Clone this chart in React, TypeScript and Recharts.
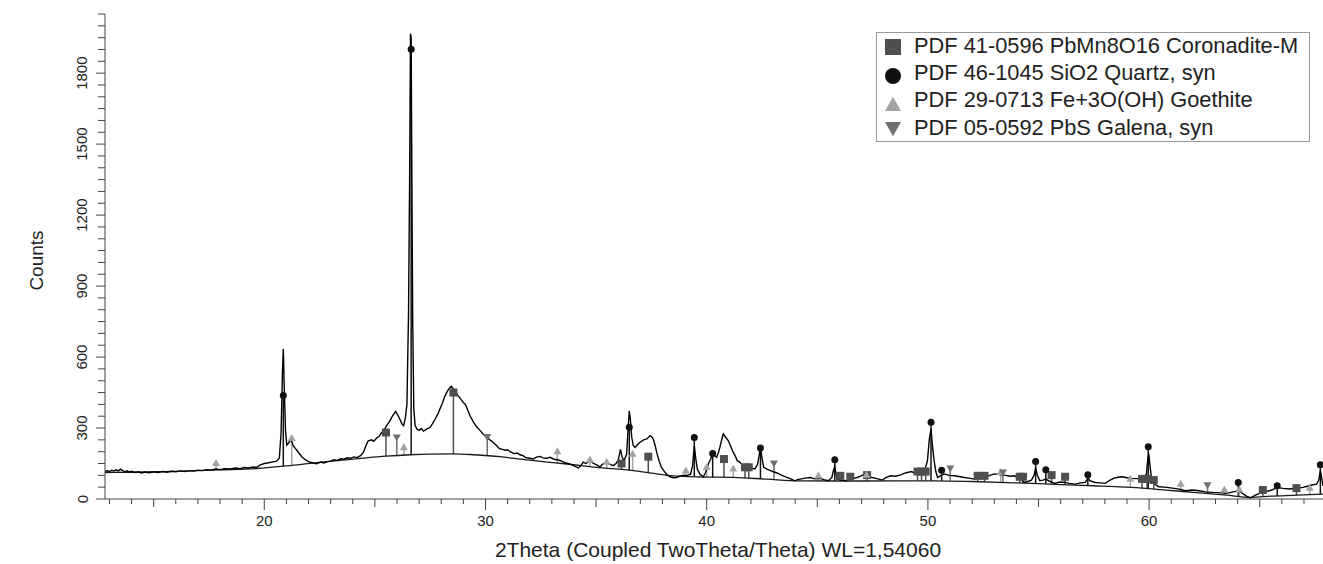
import React from 'react';
import { ComposedChart, Line, Scatter, XAxis, YAxis, ReferenceLine, Label } from 'recharts';

const FONT = '"Liberation Sans", Arial, Helvetica, sans-serif';

// Measured diffraction scan: [2Theta, Counts]
const scanPoints: [number, number][] = [
  [12.8,117],[12.9,119],[13.0,116],[13.1,121],[13.2,118],[13.3,123],[13.4,119],[13.5,126],[13.6,120],[13.7,116],
  [13.8,119],[13.9,114],[14.0,117],[14.15,112],[14.3,115],[14.45,110],[14.6,114],[14.8,111],[15.0,115],[15.2,112],
  [15.4,116],[15.6,113],[15.8,117],[16.0,115],[16.2,119],[16.4,116],[16.6,120],[16.8,118],[17.0,122],[17.2,120],
  [17.4,124],[17.6,122],[17.8,127],[18.0,124],[18.2,128],[18.45,127],[18.7,131],[18.9,128],[19.1,133],[19.3,131],
  [19.5,135],[19.66,134],[19.8,143],[20.0,150],[20.2,153],[20.4,157],[20.55,160],[20.68,172],[20.76,280],[20.82,530],
  [20.86,634],[20.9,480],[20.96,290],[21.02,228],[21.1,236],[21.18,250],[21.25,242],[21.31,225],[21.4,214],[21.5,203],
  [21.6,190],[21.7,178],[21.85,166],[22.0,158],[22.2,152],[22.37,149],[22.55,156],[22.7,152],[22.85,158],[23.0,160],
  [23.15,166],[23.3,163],[23.45,170],[23.6,168],[23.75,174],[23.9,172],[24.05,178],[24.2,175],[24.35,183],[24.48,197],
  [24.6,226],[24.7,246],[24.85,250],[24.95,244],[25.08,258],[25.2,266],[25.3,280],[25.4,290],[25.53,309],[25.65,326],
  [25.76,345],[25.86,360],[25.94,370],[26.03,356],[26.13,337],[26.22,318],[26.3,310],[26.38,345],[26.45,400],[26.52,780],
  [26.57,1350],[26.61,1967],[26.64,1950],[26.67,1400],[26.71,750],[26.76,380],[26.82,310],[26.9,296],[27.0,290],[27.1,298],
  [27.2,287],[27.35,296],[27.49,302],[27.6,318],[27.72,337],[27.85,360],[27.94,380],[28.05,405],[28.17,436],[28.28,456],
  [28.38,470],[28.46,476],[28.55,464],[28.65,452],[28.77,436],[28.9,420],[29.0,408],[29.1,398],[29.2,375],[29.3,352],
  [29.45,326],[29.6,305],[29.75,290],[29.9,274],[30.05,262],[30.2,250],[30.35,239],[30.5,226],[30.62,214],[30.72,211],
  [30.9,206],[31.0,208],[31.11,200],[31.3,192],[31.45,194],[31.56,187],[31.7,183],[31.8,176],[32.0,172],[32.16,169],
  [32.3,177],[32.47,180],[32.6,174],[32.75,172],[32.92,176],[33.1,168],[33.29,165],[33.45,160],[33.6,153],[33.82,148],
  [34.0,140],[34.2,131],[34.32,142],[34.42,156],[34.55,150],[34.72,164],[34.85,152],[35.05,143],[35.18,136],[35.3,148],
  [35.48,156],[35.6,147],[35.78,141],[35.9,150],[36.0,163],[36.1,210],[36.18,176],[36.26,162],[36.38,190],[36.45,300],
  [36.5,373],[36.55,335],[36.61,262],[36.68,226],[36.76,218],[36.88,230],[36.99,240],[37.15,250],[37.29,254],[37.38,262],
  [37.44,268],[37.52,262],[37.59,252],[37.68,222],[37.74,197],[37.85,160],[37.95,135],[38.04,122],[38.2,103],[38.34,94],
  [38.5,90],[38.64,91],[38.8,97],[38.95,101],[39.1,99],[39.27,105],[39.36,140],[39.44,225],[39.5,175],[39.58,125],
  [39.7,104],[39.85,94],[39.95,112],[40.07,148],[40.18,168],[40.27,197],[40.35,184],[40.45,176],[40.53,196],[40.6,220],
  [40.68,252],[40.75,275],[40.85,262],[40.98,246],[41.1,220],[41.2,197],[41.3,180],[41.38,162],[41.5,155],[41.58,148],
  [41.72,138],[41.88,131],[42.05,130],[42.18,127],[42.3,146],[42.38,190],[42.43,221],[42.5,172],[42.58,134],[42.72,126],
  [42.88,120],[43.05,114],[43.18,110],[43.4,100],[43.63,91],[43.8,85],[43.98,77],[44.1,82],[44.22,84],[44.45,88],
  [44.67,91],[44.9,85],[45.13,87],[45.3,82],[45.5,77],[45.66,91],[45.72,118],[45.79,136],[45.85,105],[45.89,84],
  [46.1,80],[46.34,77],[46.55,85],[46.8,91],[46.95,97],[47.1,102],[47.28,95],[47.48,91],[47.7,86],[47.93,80],
  [48.1,90],[48.31,98],[48.55,96],[48.77,102],[48.92,108],[49.07,112],[49.25,116],[49.45,108],[49.62,115],[49.83,112],
  [49.98,162],[50.06,250],[50.14,296],[50.2,230],[50.28,162],[50.36,115],[50.44,91],[50.6,100],[50.74,106],[50.95,100],
  [51.19,98],[51.4,95],[51.65,91],[51.85,88],[52.1,84],[52.3,88],[52.56,91],[52.8,100],[53.01,106],[53.25,103],
  [53.47,101],[53.7,96],[53.92,98],[54.15,85],[54.38,70],[54.55,75],[54.68,80],[54.8,100],[54.87,131],[54.95,100],
  [55.06,77],[55.2,80],[55.33,84],[55.5,75],[55.74,66],[55.95,72],[56.2,70],[56.4,66],[56.65,63],[56.9,68],
  [57.11,70],[57.18,80],[57.23,91],[57.32,78],[57.56,70],[57.8,68],[58.02,66],[58.2,78],[58.39,87],[58.6,92],
  [58.77,94],[59.0,90],[59.23,87],[59.45,86],[59.68,84],[59.8,92],[59.88,106],[59.93,160],[59.98,193],[60.04,140],
  [60.12,77],[60.28,60],[60.44,52],[60.7,50],[61.05,46],[61.35,42],[61.65,35],[61.95,38],[62.26,35],[62.55,30],
  [62.87,28],[63.15,27],[63.47,24],[63.7,28],[63.9,32],[64.03,35],[64.2,25],[64.4,12],[64.58,4],[64.78,15],
  [64.99,24],[65.2,30],[65.44,35],[65.6,40],[65.79,49],[66.05,45],[66.35,42],[66.65,46],[66.96,49],[67.2,55],
  [67.4,60],[67.57,63],[67.67,80],[67.74,120],[67.8,90],[67.86,55],
];

// Fitted background curve: [2Theta, Counts]
const backgroundPoints: [number, number][] = [
  [12.8,112],[14,113],[16,117],[18,123],[19.66,129],[21,140],[22.5,155],[24.48,173],[25.5,181],[26.59,187],
  [27.5,190],[28.55,191],[29.5,187],[30.66,179],[31.8,166],[32.7,157],[33.67,148],[35,134],[36.68,120],[37.6,108],
  [38.49,98],[39.8,93],[41.2,91],[42.7,84],[44.21,77],[47,76],[50.28,77],[52,74],[54,68],[56,61],
  [57.5,56],[59.2,49],[60.5,40],[62,28],[63.5,16],[64.58,7],[65.5,12],[66.7,16],[67.86,21],
];

// Reference phase markers (PDF cards)
const coronaditeTheta = [25.5, 28.55, 36.15, 37.36, 40.78, 41.73, 41.9, 46.04, 46.49, 47.25, 49.53, 49.71, 49.9, 52.25, 52.56, 54.15, 54.3, 55.59, 56.2, 59.68, 59.91, 60.21, 65.14, 66.66];
const coronaditeCounts = [281, 450, 150, 179, 169, 134, 134, 98, 94, 101, 116, 116, 116, 98, 98, 94, 94, 101, 94, 85, 85, 80, 38, 46];

const quartzTheta = [20.86, 26.64, 36.5, 39.44, 40.27, 42.43, 45.79, 50.14, 50.62, 54.87, 55.33, 57.23, 59.96, 64.03, 65.79, 67.74];
const quartzCounts = [437, 1901, 303, 260, 192, 216, 166, 324, 122, 159, 124, 103, 221, 70, 56, 145];

const goethiteTheta = [17.82, 21.24, 26.31, 33.25, 34.72, 35.48, 36.65, 39.06, 40.0, 41.2, 45.05, 47.22, 53.29, 59.15, 61.43, 63.4, 64.08, 67.26];
const goethiteCounts = [154, 260, 221, 204, 169, 159, 193, 122, 137, 131, 101, 104, 116, 87, 66, 42, 42, 49];

const galenaTheta = [25.99, 30.08, 43.04, 51.01, 53.39, 62.64];
const galenaCounts = [258, 260, 148, 127, 110, 56];

const phaseNames = [
  'PDF 41-0596 PbMn8O16 Coronadite-M',
  'PDF 46-1045 SiO2 Quartz, syn',
  'PDF 29-0713 Fe+3O(OH) Goethite',
  'PDF 05-0592 PbS Galena, syn',
];
const phaseColors = ['#4f4f4f', '#111111', '#a3a3a3', '#707070'];

const xTicks = Array.from({ length: 55 }, (_, i) => 13 + i);
const yTicks = Array.from({ length: 42 }, (_, i) => i * 50);

const xTitle = '2Theta (Coupled TwoTheta/Theta) WL=1,54060';
const yTitle = 'Counts';

const scanData = scanPoints.map(([x, y]) => ({ x, y }));
const backgroundData = backgroundPoints.map(([x, y]) => ({ x, y }));
const toData = (t: number[], c: number[]) => t.map((x, i) => ({ x, y: c[i] }));

const bgAt = (t: number) => {
  for (let i = 0; i < backgroundPoints.length - 1; i++) {
    const [x0, y0] = backgroundPoints[i];
    const [x1, y1] = backgroundPoints[i + 1];
    if (t >= x0 && t <= x1) return y0 + ((t - x0) / (x1 - x0)) * (y1 - y0);
  }
  return backgroundPoints[backgroundPoints.length - 1][1];
};

const phases = [
  { theta: coronaditeTheta, counts: coronaditeCounts, color: phaseColors[0], kind: 'square' },
  { theta: quartzTheta, counts: quartzCounts, color: phaseColors[1], kind: 'circle' },
  { theta: goethiteTheta, counts: goethiteCounts, color: phaseColors[2], kind: 'up' },
  { theta: galenaTheta, counts: galenaCounts, color: phaseColors[3], kind: 'down' },
];

const markerPath = (kind: string, cx: number, cy: number, s: number, color: string) => {
  if (kind === 'square') return <rect x={cx - s / 2} y={cy - s / 2} width={s} height={s} fill={color} />;
  if (kind === 'circle') return <circle cx={cx} cy={cy} r={s / 2} fill={color} />;
  if (kind === 'up')
    return <polygon points={`${cx - s / 2},${cy + s * 0.43} ${cx + s / 2},${cy + s * 0.43} ${cx},${cy - s * 0.45}`} fill={color} />;
  return <polygon points={`${cx - s / 2},${cy - s * 0.43} ${cx + s / 2},${cy - s * 0.43} ${cx},${cy + s * 0.45}`} fill={color} />;
};

const makeShape = (kind: string, color: string) => (p: any) => {
  if (p.cx == null || p.cy == null) return <g />;
  return markerPath(kind, p.cx, p.cy, kind === 'circle' ? 7 : 8, color);
};

const XTick = (props: any) => {
  const { x, y, payload } = props;
  const v = payload.value;
  const major = v % 10 === 0;
  const len = major ? 11 : v % 5 === 0 ? 8 : 5;
  return (
    <g>
      <line x1={x} x2={x} y1={y} y2={y + len} stroke="#444" strokeWidth={1} />
      {major && (
        <text x={x} y={y + 27} textAnchor="middle" fontSize={15} fontFamily={FONT} fill="#222">
          {v}
        </text>
      )}
    </g>
  );
};

const YTick = (props: any) => {
  const { x, y, payload } = props;
  const v = payload.value;
  const major = v % 300 === 0;
  const lx = x - 17.5;
  return (
    <g>
      <line x1={x - (major ? 9 : 7)} x2={x} y1={y} y2={y} stroke="#444" strokeWidth={1} />
      {major && (
        <text x={lx} y={y} transform={`rotate(-90 ${lx} ${y})`} textAnchor="middle" fontSize={15} fontFamily={FONT} fill="#222">
          {v}
        </text>
      )}
    </g>
  );
};

const XTitle = (props: any) => {
  const vb = props.viewBox || { x: 105, y: 499, width: 1218, height: 65 };
  return (
    <text x={vb.x + vb.width / 2 + 4} y={vb.y + 58} textAnchor="middle" fontSize={21} fontFamily={FONT} fill="#222">
      {xTitle}
    </text>
  );
};

const YTitle = (props: any) => {
  const vb = props.viewBox || { x: 0, y: 14, width: 105, height: 485 };
  const cx = vb.x + 43;
  const cy = vb.y + vb.height / 2 + 4;
  return (
    <text x={cx} y={cy} transform={`rotate(-90 ${cx} ${cy})`} textAnchor="middle" fontSize={19} fontFamily={FONT} fill="#222">
      {yTitle}
    </text>
  );
};

const LegendBox = () => {
  const rowsMarkerY = [14, 43, 71, 96];
  const rowsTextY = [20, 47, 74, 102];
  return (
    <div
      style={{
        position: 'absolute',
        left: 876,
        top: 32,
        width: 434,
        height: 110,
        border: '1px solid #9a9a9a',
        background: '#fff',
        boxSizing: 'border-box',
      }}
    >
      <svg width={432} height={108} style={{ display: 'block' }}>
        {phases.map((ph, i) => (
          <g key={i}>
            {markerPath(ph.kind, 16, rowsMarkerY[i], 16, ph.color)}
            <text x={37} y={rowsTextY[i]} fontSize={21.8} fontFamily={FONT} fill="#222">
              {phaseNames[i]}
            </text>
          </g>
        ))}
      </svg>
    </div>
  );
};

export default function App() {
  return (
    <div style={{ position: 'absolute', left: 0, top: 0, width: 1323, height: 564, background: '#fff' }}>
      <ComposedChart width={1323} height={564} margin={{ top: 14, right: 0, bottom: 0, left: 0 }}>
        <XAxis
          type="number"
          dataKey="x"
          domain={[12.8, 67.86]}
          ticks={xTicks}
          interval={0}
          allowDataOverflow
          tickSize={0}
          tickMargin={0}
          tickLine={false}
          tick={<XTick />}
          axisLine={{ stroke: '#444', strokeWidth: 1 }}
          height={65}
        >
          <Label content={<XTitle />} />
        </XAxis>
        <YAxis
          type="number"
          dataKey="y"
          domain={[0, 2050]}
          ticks={yTicks}
          interval={0}
          allowDataOverflow
          tickSize={0}
          tickMargin={0}
          tickLine={false}
          tick={<YTick />}
          axisLine={{ stroke: '#444', strokeWidth: 1 }}
          width={105}
        >
          <Label content={<YTitle />} />
        </YAxis>
        {phases.map((ph, pi) =>
          ph.theta.map((t, i) => (
            <ReferenceLine
              key={`s-${pi}-${i}`}
              segment={[
                { x: t, y: bgAt(t) },
                { x: t, y: ph.counts[i] },
              ]}
              stroke={ph.color}
              strokeWidth={1.5}
            />
          ))
        )}
        <Line
          data={backgroundData}
          dataKey="y"
          type="monotone"
          dot={false}
          stroke="#1a1a1a"
          strokeWidth={1.3}
          isAnimationActive={false}
        />
        <Line
          data={scanData}
          dataKey="y"
          type="linear"
          dot={false}
          stroke="#000"
          strokeWidth={1.4}
          isAnimationActive={false}
        />
        {phases.map((ph, pi) => (
          <Scatter
            key={`p-${pi}`}
            data={toData(ph.theta, ph.counts)}
            dataKey="y"
            shape={makeShape(ph.kind, ph.color)}
            isAnimationActive={false}
          />
        ))}
      </ComposedChart>
      <LegendBox />
    </div>
  );
}
